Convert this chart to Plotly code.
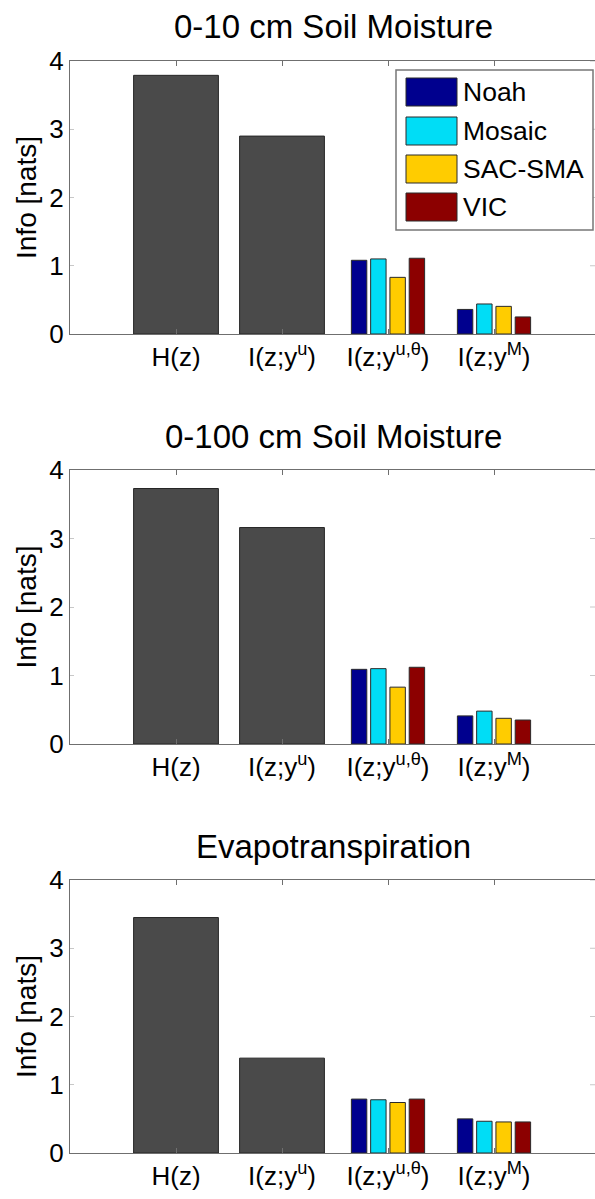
import plotly.graph_objects as go
from plotly.subplots import make_subplots

# Figure size (px)
FIG_W, FIG_H = 595, 1199

# Categories on the x axis (positions 1..4)
category_labels = ["H(z)", "I(z;y<sup>u</sup>)", "I(z;y<sup>u,θ</sup>)", "I(z;y<sup>M</sup>)"]
panel_titles = ["0-10 cm Soil Moisture", "0-100 cm Soil Moisture", "Evapotranspiration"]

# Single-bar quantities, one value per panel
entropy_H = [3.79, 3.73, 3.45]
info_u = [2.90, 3.16, 1.39]

# Per-model information, one value per panel
models = ["Noah", "Mosaic", "SAC-SMA", "VIC"]
model_colors = ["#00008E", "#00DDF6", "#FFCC00", "#8C0000"]
noah_utheta = [1.08, 1.09, 0.79]
mosaic_utheta = [1.10, 1.10, 0.78]
sacsma_utheta = [0.83, 0.83, 0.74]
vic_utheta = [1.11, 1.12, 0.79]
noah_M = [0.36, 0.41, 0.50]
mosaic_M = [0.44, 0.48, 0.465]
sacsma_M = [0.405, 0.375, 0.455]
vic_M = [0.25, 0.35, 0.455]

y_ticks = [0, 1, 2, 3, 4]

model_utheta = [noah_utheta, mosaic_utheta, sacsma_utheta, vic_utheta]
model_M = [noah_M, mosaic_M, sacsma_M, vic_M]

FONT = "Liberation Sans, Arial, Helvetica, sans-serif"
AXIS_GRAY = "#6f6f6f"

# Axes boxes in pixels (top, bottom); left edge and unit width shared
ax_top = [61, 470, 880]
ax_bot = [334, 744, 1153]
ax_left = 70
px_per_cat = 106.0

fig = make_subplots(rows=3, cols=1)

group_w = 4 / (4 + 1.5)          # grouped-bar total width
slot = group_w / 4
bar_w = 0.8 * slot

for p in range(3):
    row = p + 1
    fig.add_trace(go.Bar(
        x=[1, 2], y=[entropy_H[p], info_u[p]], width=0.8,
        marker=dict(color="#4a4a4a", line=dict(color="#262626", width=1)),
        showlegend=False, hoverinfo="y"), row=row, col=1)
    for k, name in enumerate(models):
        center = (k - 1.5) * slot
        fig.add_trace(go.Bar(
            x=[3, 4], y=[model_utheta[k][p], model_M[k][p]],
            width=bar_w, offset=center - bar_w / 2,
            marker=dict(color=model_colors[k], line=dict(color="#2a2a2a", width=1)),
            name=name, showlegend=False), row=row, col=1)

    xa = "xaxis" if p == 0 else f"xaxis{p + 1}"
    ya = "yaxis" if p == 0 else f"yaxis{p + 1}"
    fig.layout[xa].update(
        domain=[ax_left / FIG_W, 1.0],
        range=[0, (FIG_W - ax_left) / px_per_cat],
        tickmode="array", tickvals=[1, 2, 3, 4], ticktext=category_labels,
        ticks="inside", ticklen=5, tickcolor=AXIS_GRAY,
        showline=True, linecolor=AXIS_GRAY, linewidth=1, mirror="ticks",
        showgrid=False, zeroline=False, automargin=False,
        tickfont=dict(family=FONT, size=26, color="black"),
        ticklabelstandoff=0,
    )
    fig.layout[ya].update(
        domain=[1 - ax_bot[p] / FIG_H, 1 - ax_top[p] / FIG_H],
        range=[0, 4], tickmode="array", tickvals=y_ticks,
        ticks="inside", ticklen=4, tickcolor="#c8c8c8",
        showline=True, linecolor=AXIS_GRAY, linewidth=1,
        showgrid=False, zeroline=False, automargin=False,
        tickfont=dict(family=FONT, size=26, color="black"),
        title=dict(text="Info [nats]", font=dict(family=FONT, size=28, color="black"), standoff=4),
    )
    # inward ticks on the right-hand border
    for t in y_ticks[1:]:
        fig.add_shape(type="line", xref="paper", yref=ya.replace("axis", ""),
                      x0=1 - 5 / FIG_W, x1=1.0, y0=t, y1=t,
                      line=dict(color="#c8c8c8", width=1))
    # panel title
    fig.add_annotation(text=panel_titles[p], xref="paper", yref="paper",
                       x=(ax_left + 597) / 2 / FIG_W, y=1 - (ax_top[p] - 34) / FIG_H,
                       xanchor="center", yanchor="middle", showarrow=False,
                       font=dict(family=FONT, size=33, color="black"))

# Legend box inside the first panel
def px(xp, yp):
    return xp / FIG_W, 1 - yp / FIG_H

lx0, ly0 = px(396, 70)
lx1, ly1 = px(593, 230)
fig.add_shape(type="rect", xref="paper", yref="paper", x0=lx0, x1=lx1, y0=ly1, y1=ly0,
              line=dict(color="#777777", width=1.5), fillcolor="white", layer="above")
sw_top = [78, 117, 155, 193]
for k, name in enumerate(models):
    sx0, sy0 = px(406, sw_top[k])
    sx1, sy1 = px(457, sw_top[k] + 28)
    fig.add_shape(type="rect", xref="paper", yref="paper", x0=sx0, x1=sx1, y0=sy1, y1=sy0,
                  line=dict(color="#2a2a2a", width=1), fillcolor=model_colors[k], layer="above")
    tx, ty = px(461, sw_top[k] + 14)
    fig.add_annotation(text=name, xref="paper", yref="paper", x=tx, y=ty,
                       xanchor="left", yanchor="middle", showarrow=False,
                       font=dict(family=FONT, size=26.5, color="black"))

fig.update_layout(
    template="none",
    width=FIG_W, height=FIG_H,
    margin=dict(l=0, r=0, t=0, b=0),
    paper_bgcolor="white", plot_bgcolor="white",
    barmode="overlay", showlegend=False,
    font=dict(family=FONT, color="black"),
)

fig.write_html("out.html")
